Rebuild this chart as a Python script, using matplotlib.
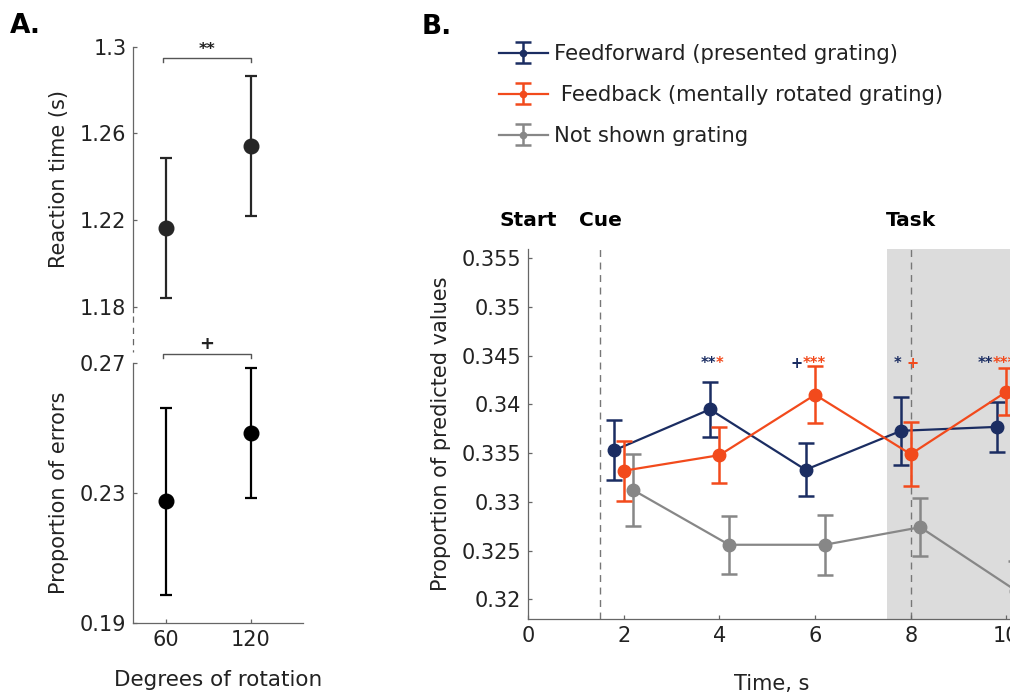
import matplotlib
matplotlib.use('Agg')
import matplotlib.pyplot as plt
from matplotlib.lines import Line2D

# ---------------- data ----------------
# Panel A
rotation_deg = [60, 120]
rt_mean = [1.2165, 1.2543]
rt_err = [0.0323, 0.0323]
errors_mean = [0.2275, 0.2486]
errors_err = [0.0289, 0.0199]
rt_ticks = [1.18, 1.22, 1.26, 1.3]
rt_ticklabels = ['1.18', '1.22', '1.26', '1.3']
errors_ticks = [0.19, 0.23, 0.27]
errors_ticklabels = ['0.19', '0.23', '0.27']
bracket_x = [58, 120]
rt_bracket_y = 1.2946
errors_bracket_y = 0.2728
rt_sig = '**'
errors_sig = '+'

# Panel B
time_s = [2, 4, 6, 8, 10]
ff_mean = [0.3353, 0.3395, 0.3333, 0.3373, 0.3377]
ff_err = [0.0031, 0.0028, 0.0027, 0.0035, 0.0026]
fb_mean = [0.3332, 0.3348, 0.3410, 0.3349, 0.3413]
fb_err = [0.0031, 0.0029, 0.0029, 0.0033, 0.0024]
ns_mean = [0.3312, 0.3256, 0.3256, 0.3274, 0.3209]
ns_err = [0.0037, 0.0030, 0.0031, 0.0030, 0.0030]
offsets = {'ff': -0.2, 'fb': 0.0, 'ns': 0.2}
labels = ['Feedforward (presented grating)',
          ' Feedback (mentally rotated grating)',
          'Not shown grating']
# significance marks above t = 4, 6, 8, 10
ff_sig = ['**', '+', '*', '**']
fb_sig = ['*', '***', '+', '***']
ff_sig_right = [3.93, 5.74, 7.81, 9.72]   # blue marks end here
fb_sig_left = [3.93, 5.74, 7.92, 9.72]    # orange marks start here
sig_y = 0.34455
event_x = [0, 1.5, 8]
event_labels = ['Start', 'Cue', 'Task']
cue_lines = [1.5, 8]
task_start = 7.5
b_yticks = [0.32, 0.325, 0.33, 0.335, 0.34, 0.345, 0.35, 0.355]
b_yticklabels = ['0.32', '0.325', '0.33', '0.335', '0.34', '0.345', '0.35', '0.355']
b_xticks = [0, 2, 4, 6, 8, 10]

# ---------------- style ----------------
W, H = 1010, 694
BLUE = '#1b2d62'
ORANGE = '#f24a1c'
GREY = '#878787'
SPINE = '#666666'
TXT = '#222222'
FS = 15

plt.rcParams['font.family'] = 'DejaVu Sans'
plt.rcParams['font.size'] = FS

fig = plt.figure(figsize=(W / 100, H / 100), dpi=100)


def px_axes(left, top, right, bottom):
    return fig.add_axes([left / W, 1 - bottom / H, (right - left) / W, (bottom - top) / H])


def style_axes(ax):
    for s in ['top', 'right']:
        ax.spines[s].set_visible(False)
    for s in ['left', 'bottom']:
        ax.spines[s].set_color(SPINE)
        ax.spines[s].set_linewidth(0.9)
    ax.tick_params(direction='in', length=3.2, width=0.9, color=SPINE,
                   labelcolor=TXT, labelsize=FS, pad=5)


# ---------------- panel A ----------------
ax_rt = px_axes(133.3, 46.7, 303.3, 312)
ax_er = px_axes(133.3, 363.3, 303.3, 623.3)
for ax in (ax_rt, ax_er):
    style_axes(ax)
    ax.set_xlim(37.2, 156.8)

ax_rt.errorbar(rotation_deg, rt_mean, yerr=rt_err, fmt='o', color='#262626',
               ms=10.5, elinewidth=1.6, capsize=4, capthick=1.6)
ax_rt.set_ylim(1.1777, 1.3)
ax_rt.set_yticks(rt_ticks)
ax_rt.set_yticklabels(rt_ticklabels)
ax_rt.spines['bottom'].set_visible(False)
ax_rt.set_xticks([])
ax_rt.set_ylabel('Reaction time (s)', color=TXT, labelpad=8)

ax_er.errorbar(rotation_deg, errors_mean, yerr=errors_err, fmt='o', color='black',
               ms=10.5, elinewidth=1.6, capsize=4, capthick=1.6)
ax_er.set_ylim(0.19, 0.27)
ax_er.set_yticks(errors_ticks)
ax_er.set_yticklabels(errors_ticklabels)
ax_er.set_xticks(rotation_deg)
ax_er.set_ylabel('Proportion of errors', color=TXT, labelpad=8)
ax_er.set_xlabel('Degrees of rotation', color=TXT, fontsize=15.5, labelpad=14)

# significance brackets
for ax, by, sig, leg, fs, wt, off in [
        (ax_rt, rt_bracket_y, rt_sig, 0.0015, 11.5, 'bold', 3.0),
        (ax_er, errors_bracket_y, errors_sig, 0.0011, 13, 'bold', 3.7)]:
    ax.plot([bracket_x[0], bracket_x[0], bracket_x[1], bracket_x[1]],
            [by - leg, by, by, by - leg], color='#555555', lw=1, clip_on=False)
    ax.annotate(sig, xy=(sum(bracket_x) / 2, by), xytext=(0, off),
                textcoords='offset points', ha='center', va='baseline',
                fontsize=fs, fontweight=wt, color=TXT, annotation_clip=False)

# axis break between the two panels
fig.add_artist(Line2D([133.3 / W, 133.3 / W], [1 - 316 / H, 1 - 352 / H],
                      transform=fig.transFigure, color=SPINE, lw=0.9,
                      ls=(0, (5, 4))))

fig.text(10 / W, 1 - 26 / H, 'A.', fontsize=19, fontweight='bold', va='center')

# ---------------- panel B ----------------
x_left, x_scale = 528.3, 47.8
b_xlim = (0, 12)
ax_b = px_axes(x_left, 249.3, x_left + x_scale * b_xlim[1], 619)
style_axes(ax_b)
ax_b.set_xlim(*b_xlim)
ax_b.set_ylim(0.31798, 0.35593)
ax_b.axvspan(task_start, b_xlim[1], color='#dcdcdc', lw=0, zorder=0)
for cx in cue_lines:
    ax_b.axvline(cx, color='#777777', lw=1, ls=(0, (5, 4)), zorder=1)

series = [
    (ns_mean, ns_err, offsets['ns'], GREY, labels[2], 2),
    (ff_mean, ff_err, offsets['ff'], BLUE, labels[0], 3),
    (fb_mean, fb_err, offsets['fb'], ORANGE, labels[1], 4),
]
handles = {}
for mean, err, off, col, lab, z in series:
    xs = [t + off for t in time_s]
    h = ax_b.errorbar(xs, mean, yerr=err, fmt='-o', color=col, lw=1.6, ms=9,
                      elinewidth=1.8, capsize=5.5, capthick=1.8, zorder=z, label=lab)
    handles[lab] = h

ax_b.set_xticks(b_xticks)
ax_b.set_yticks(b_yticks)
ax_b.set_yticklabels(b_yticklabels)
ax_b.set_ylabel('Proportion of predicted values', color=TXT, labelpad=8)
ax_b.set_xlabel('Time, s', color=TXT, labelpad=18)
ax_b.xaxis.set_label_coords(5.09 / b_xlim[1], -0.15)

for x, s in zip(ff_sig_right, ff_sig):
    ax_b.annotate(s, xy=(x, sig_y), xytext=(0, -6.0), textcoords='offset points',
                  ha='right', va='baseline', fontsize=10.5, fontweight='bold', color=BLUE)
for x, s in zip(fb_sig_left, fb_sig):
    ax_b.annotate(s, xy=(x, sig_y), xytext=(0, -6.0), textcoords='offset points',
                  ha='left', va='baseline', fontsize=10.5, fontweight='bold', color=ORANGE)

for x, lab in zip(event_x, event_labels):
    ax_b.text(x, 1.0774, lab, transform=ax_b.get_xaxis_transform(), ha='center',
              va='center', fontsize=14.5, fontweight='bold', color='black')

fig.text(422 / W, 1 - 27 / H, 'B.', fontsize=19, fontweight='bold', va='center')

leg = fig.legend([handles[l] for l in labels], labels, loc='upper left',
                 bbox_to_anchor=(499 / W, 1 - 44 / H), frameon=False,
                 fontsize=15.2, handlelength=2.3, handletextpad=0.3,
                 labelspacing=1.0, borderpad=0, borderaxespad=0, markerscale=0.5)
for t in leg.get_texts():
    t.set_color(TXT)

fig.savefig('out.png', dpi=100)
